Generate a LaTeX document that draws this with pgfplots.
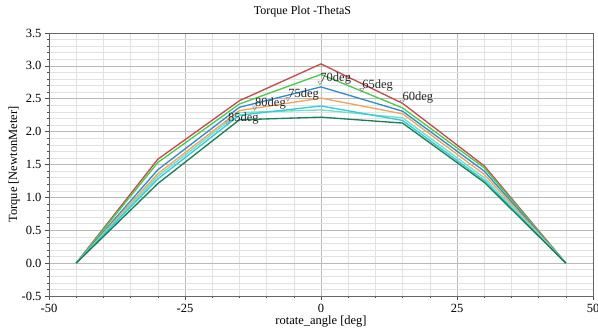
\documentclass[border=0pt]{standalone}
\usepackage{fontspec}
\setmainfont{Liberation Serif}
\usepackage{pgfplots}
\pgfplotsset{compat=1.18}

\definecolor{cRed}{RGB}{192,80,80}
\definecolor{cGreen}{RGB}{80,200,80}
\definecolor{cBlue}{RGB}{55,140,200}
\definecolor{cOrange}{RGB}{240,165,95}
\definecolor{cCyan}{RGB}{50,205,215}
\definecolor{cTeal}{RGB}{120,220,200}
\definecolor{cDark}{RGB}{30,125,90}
\definecolor{gridMajor}{RGB}{185,185,185}
\definecolor{gridMinor}{RGB}{225,225,225}

\begin{document}
\begin{tikzpicture}[x=1pt,y=1pt]
\path[use as bounding box] (-49,-36) rectangle (549,296);
\begin{axis}[
  at={(0,0)}, anchor=south west,
  scale only axis, width=544pt, height=263pt,
  xmin=-50, xmax=50, ymin=-0.5, ymax=3.5,
  xtick={-50,-25,0,25,50},
  xticklabels={-50,-25,0,25,50},
  ytick={-0.5,0,0.5,1,1.5,2,2.5,3,3.5},
  yticklabels={-0.5,0.0,0.5,1.0,1.5,2.0,2.5,3.0,3.5},
  minor x tick num=4, minor y tick num=4,
  grid=both,
  major grid style={gridMajor, line width=0.6pt},
  minor grid style={gridMinor, line width=0.5pt},
  tick align=outside, xtick pos=bottom, ytick pos=left,
  major tick length=4pt, minor tick length=2pt,
  tick style={black!70, line width=0.6pt},
  axis line style={black!60, line width=0.8pt},
  ticklabel style={font=\fontsize{12.5}{14}\selectfont},
  xticklabel style={yshift=-1pt},
  clip=false,
  every axis plot/.append style={line width=1.35pt, mark=none},
]
% torque curves for each ThetaS value
\addplot[cRed]    coordinates {(-45,0) (-30,1.58) (-15,2.47) (0,3.03) (15,2.43) (30,1.48) (45,0)};
\addplot[cGreen]  coordinates {(-45,0) (-30,1.53) (-15,2.42) (0,2.87) (15,2.36) (30,1.45) (45,0)};
\addplot[cBlue]   coordinates {(-45,0) (-30,1.42) (-15,2.37) (0,2.68) (15,2.31) (30,1.40) (45,0)};
\addplot[cOrange] coordinates {(-45,0) (-30,1.36) (-15,2.32) (0,2.51) (15,2.27) (30,1.35) (45,0)};
\addplot[cTeal]   coordinates {(-45,0) (-30,1.32) (-15,2.29) (0,2.33) (15,2.21) (30,1.30) (45,0)};
\addplot[cCyan]   coordinates {(-45,0) (-30,1.28) (-15,2.25) (0,2.39) (15,2.17) (30,1.26) (45,0)};
\addplot[cDark]   coordinates {(-45,0) (-30,1.21) (-15,2.18) (0,2.22) (15,2.13) (30,1.23) (45,0)};

% peak markers
\addplot[only marks, mark=triangle, mark size=2.4pt, draw=black!45, line width=0.5pt,
  mark options={rotate=180, fill=none},
  nodes near coords, point meta=explicit symbolic,
  every node near coord/.style={anchor=base west, xshift=-3pt, yshift=1pt,
    font=\fontsize{12.5}{14}\selectfont, text=black!85}]
  coordinates {
    (14.9,2.46) [60deg]
    (7.5,2.64) [65deg]
    (-0.2,2.75) [70deg]
    (-6.1,2.50) [75deg]
    (-12.2,2.36) [80deg]
    (-17.2,2.14) [85deg]
  };

\node[font=\fontsize{12}{14}\selectfont] at (axis cs:-3.4,3.5) [yshift=21pt] {Torque Plot -ThetaS};
\end{axis}
\node[font=\fontsize{12.5}{14}\selectfont] at (272,-26) {rotate\_angle [deg]};
\node[font=\fontsize{12.5}{14}\selectfont, rotate=90] at (-35,131.5) {Torque [NewtonMeter]};
\end{tikzpicture}
\end{document}
